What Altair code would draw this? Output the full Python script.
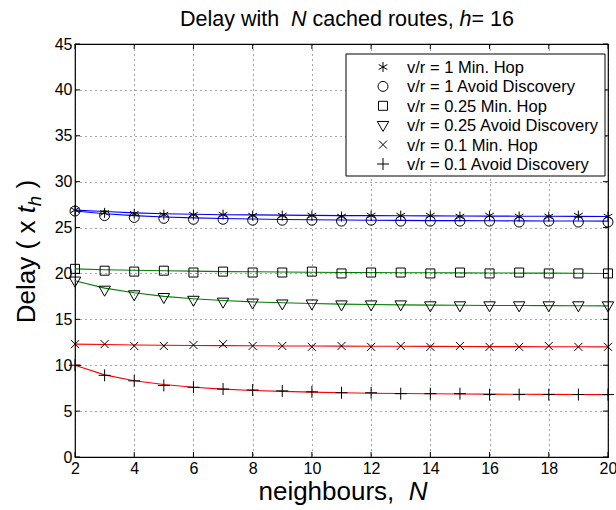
import altair as alt
import pandas as pd

N = list(range(2, 21))
labels = ["v/r = 1 Min. Hop", "v/r = 1 Avoid Discovery", "v/r = 0.25 Min. Hop",
          "v/r = 0.25 Avoid Discovery", "v/r = 0.1 Min. Hop", "v/r = 0.1 Avoid Discovery"]
line_colors = ["#0000ff", "#0000ff", "#008000", "#008000", "#ff0000", "#ff0000"]

# measured points (markers)
pts_vr1_mh = [26.9, 26.6, 26.5, 26.4, 26.4, 26.4, 26.3, 26.3, 26.3, 26.2, 26.3, 26.3, 26.3, 26.2, 26.3, 26.2, 26.2, 26.3, 26.2]
pts_vr1_ad = [26.8, 26.3, 26.1, 26.0, 25.9, 25.9, 25.8, 25.8, 25.8, 25.7, 25.8, 25.7, 25.7, 25.7, 25.7, 25.6, 25.7, 25.6, 25.6]
pts_vr025_mh = [20.5, 20.3, 20.2, 20.3, 20.1, 20.2, 20.1, 20.1, 20.2, 20.0, 20.1, 20.1, 20.0, 20.1, 20.0, 20.1, 20.0, 20.0, 20.0]
pts_vr025_ad = [19.2, 18.2, 17.7, 17.4, 17.1, 16.9, 16.8, 16.7, 16.7, 16.6, 16.6, 16.6, 16.5, 16.5, 16.5, 16.5, 16.5, 16.5, 16.5]
pts_vr01_mh = [12.3, 12.3, 12.1, 12.1, 12.2, 12.3, 12.1, 12.1, 12.0, 12.1, 12.0, 12.1, 12.0, 12.1, 12.0, 12.0, 12.1, 12.0, 12.0]
pts_vr01_ad = [10.0, 8.9, 8.3, 7.8, 7.6, 7.4, 7.3, 7.2, 7.1, 7.0, 7.0, 6.9, 6.9, 6.9, 6.8, 6.8, 6.8, 6.8, 6.8]

# fitted curves (lines)
fit_vr1_mh = [26.9, 26.75, 26.6, 26.5, 26.45, 26.4, 26.38, 26.35, 26.33, 26.3, 26.3, 26.28, 26.27, 26.26, 26.25, 26.24, 26.23, 26.22, 26.2]
fit_vr1_ad = [26.8, 26.5, 26.3, 26.15, 26.05, 25.98, 25.93, 25.88, 25.85, 25.82, 25.8, 25.78, 25.76, 25.75, 25.74, 25.73, 25.72, 25.71, 25.7]
fit_vr025_mh = [20.5, 20.4, 20.35, 20.3, 20.25, 20.2, 20.18, 20.15, 20.13, 20.1, 20.1, 20.08, 20.07, 20.06, 20.05, 20.04, 20.03, 20.02, 20.0]
fit_vr025_ad = [19.2, 18.4, 17.9, 17.5, 17.25, 17.05, 16.9, 16.8, 16.72, 16.66, 16.62, 16.58, 16.55, 16.53, 16.51, 16.5, 16.49, 16.48, 16.47]
fit_vr01_mh = [12.3, 12.25, 12.2, 12.17, 12.15, 12.13, 12.12, 12.1, 12.09, 12.08, 12.07, 12.06, 12.05, 12.04, 12.03, 12.03, 12.02, 12.01, 12.0]
fit_vr01_ad = [10.0, 8.95, 8.3, 7.9, 7.6, 7.4, 7.25, 7.15, 7.07, 7.0, 6.95, 6.92, 6.89, 6.87, 6.85, 6.83, 6.82, 6.81, 6.8]

x_ticks = list(range(2, 21, 2))
y_ticks = list(range(0, 46, 5))

pts_all = [pts_vr1_mh, pts_vr1_ad, pts_vr025_mh, pts_vr025_ad, pts_vr01_mh, pts_vr01_ad]
fit_all = [fit_vr1_mh, fit_vr1_ad, fit_vr025_mh, fit_vr025_ad, fit_vr01_mh, fit_vr01_ad]

rows_p, rows_f = [], []
for lab, p, f in zip(labels, pts_all, fit_all):
    for n, pv, fv in zip(N, p, f):
        rows_p.append({"N": n, "delay": pv, "series": lab})
        rows_f.append({"N": n, "delay": fv, "curve": lab})
df_p = pd.DataFrame(rows_p)
df_f = pd.DataFrame(rows_f)

W, H = 533, 413
FONT = "Liberation Sans"

# marker glyphs as unit paths (all drawn at one symbol size)
shapes = ["M0,-1L0,1M-0.866,-0.5L0.866,0.5M-0.866,0.5L0.866,-0.5",
          "M1,0A1,1,0,1,1,-1,0A1,1,0,1,1,1,0Z",
          "M-0.9,-0.9L0.9,-0.9L0.9,0.9L-0.9,0.9Z",
          "M-1.15,-0.75L1.15,-0.75L0,1.25Z",
          "M-0.8,-0.8L0.8,0.8M-0.8,0.8L0.8,-0.8",
          "M-1.2,0L1.2,0M0,-1.2L0,1.2"]

xscale = alt.Scale(domain=[2, 20], nice=False, zero=False)
yscale = alt.Scale(domain=[0, 45], nice=False)

xaxis = alt.Axis(values=x_ticks, title=None, grid=True, gridDash=[1, 4], gridColor="#000",
                 gridOpacity=0.7, ticks=False, domain=False, labelFont=FONT, labelFontSize=16,
                 labelColor="#000", labelPadding=3, labelFlush=False)
yaxis = alt.Axis(values=y_ticks, title=None, grid=True, gridDash=[1, 4], gridColor="#000",
                 gridOpacity=0.7, ticks=False, domain=False, labelFont=FONT, labelFontSize=16,
                 labelColor="#000", labelPadding=3)

lines = alt.Chart(df_f).mark_line(strokeWidth=1.1).encode(
    x=alt.X("N:Q", scale=xscale, axis=xaxis),
    y=alt.Y("delay:Q", scale=yscale, axis=yaxis),
    color=alt.Color("curve:N", scale=alt.Scale(domain=labels, range=line_colors), legend=None),
    detail="curve:N",
)

points = alt.Chart(df_p).mark_point(filled=False, color="#000", strokeWidth=1, opacity=1,
                                    size=100).encode(
    x=alt.X("N:Q", scale=xscale),
    y=alt.Y("delay:Q", scale=yscale),
    shape=alt.Shape("series:N", scale=alt.Scale(domain=labels, range=shapes), legend=None),
)

df_xt = pd.DataFrame({"v": x_ticks})
df_yt = pd.DataFrame({"v": y_ticks})
tick_b = alt.Chart(df_xt).mark_rule(color="#000").encode(
    x=alt.X("v:Q", scale=xscale), y=alt.value(H), y2=alt.value(H - 5))
tick_t = alt.Chart(df_xt).mark_rule(color="#000").encode(
    x=alt.X("v:Q", scale=xscale), y=alt.value(0), y2=alt.value(5))
tick_l = alt.Chart(df_yt).mark_rule(color="#000").encode(
    y=alt.Y("v:Q", scale=yscale), x=alt.value(0), x2=alt.value(5))
tick_r = alt.Chart(df_yt).mark_rule(color="#000").encode(
    y=alt.Y("v:Q", scale=yscale), x=alt.value(W), x2=alt.value(W - 5))

dummy = pd.DataFrame({"a": [0]})

# legend (drawn as a box with symbol + label rows)
LX0, LX1, LY0, LY1 = 271, 530, 10, 132
ROW0, ROWH = 23, 19.4
SYM_X, LAB_X = 308, 332
legend_layers = [alt.Chart(dummy).mark_rect(fill="white", stroke="#000", strokeWidth=1).encode(
    x=alt.value(LX0), x2=alt.value(LX1), y=alt.value(LY0), y2=alt.value(LY1))]
for i, (lab, shp) in enumerate(zip(labels, shapes)):
    yy = ROW0 + i * ROWH
    legend_layers.append(alt.Chart(dummy).mark_point(
        shape=shp, filled=False, color="#000", strokeWidth=1, size=100, opacity=1
    ).encode(x=alt.value(SYM_X), y=alt.value(yy)))
    legend_layers.append(alt.Chart(dummy).mark_text(
        text=lab, font=FONT, fontSize=16.5, align="left", baseline="middle", color="#000"
    ).encode(x=alt.value(LAB_X), y=alt.value(yy + 1)))

# Arial / Liberation Sans advance widths (per 1000 em)
AW = {' ': 278, 'D': 722, 'e': 556, 'l': 222, 'a': 556, 'y': 500, 'w': 722,
      'i': 222, 't': 278, 'h': 556, 'N': 722, 'c': 500, 'd': 556, 'r': 333, 'o': 556, 'u': 556,
      's': 500, ',': 278, '=': 584, '1': 556, '6': 556, 'n': 556, 'g': 556, 'b': 556,
      '(': 333, ')': 333, 'x': 500}


def tw(s, fs):
    return sum(AW.get(c, 556) for c in s) * fs / 1000.0


def text_run(parts, fs, cx, cy, angle=0):
    """parts: list of (text, italic, size_factor, baseline_shift)"""
    total = sum(tw(t, fs * sf) for t, it, sf, sh in parts)
    layers = []
    pos = -total / 2
    for t, it, sf, sh in parts:
        f = fs * sf
        lead = len(t) - len(t.lstrip(" "))
        start = pos + lead * 278 * f / 1000.0
        s = t.strip(" ")
        if angle == 0:
            x, y = cx + start, cy + sh
        else:
            x, y = cx + sh, cy - start
        layers.append(alt.Chart(dummy).mark_text(
            text=s, font=FONT, fontSize=f, fontStyle="italic" if it else "normal",
            align="left", baseline="alphabetic", color="#000", angle=angle
        ).encode(x=alt.value(x), y=alt.value(y)))
        pos += tw(t, f)
    return layers


title_layers = text_run([("Delay with  ", False, 1, 0), ("N", True, 1, 0),
                         (" cached routes, ", False, 1, 0), ("h", True, 1, 0),
                         ("= 16", False, 1, 0)], 21.5, 272, -18)
xtitle_layers = text_run([("neighbours,  ", False, 1, 0), ("N", True, 1, 0)], 26, 268, 456)
ytitle_layers = text_run([("Delay ( x ", False, 1, 0), ("t", True, 1, 0), ("h", True, 0.72, 6),
                          (" )", False, 1, 0)], 26, -40, H / 2 + 1, angle=270)

chart = alt.layer(lines, points, tick_b, tick_t, tick_l, tick_r, *legend_layers,
                  *title_layers, *xtitle_layers, *ytitle_layers).properties(
    width=W, height=H, autosize="none",
    padding={"left": 75, "top": 44, "right": 8, "bottom": 53},
    background="white",
).configure_view(stroke="#000", strokeWidth=1.2)

chart.save("out.html", embed_options={"renderer": "svg", "actions": False})
